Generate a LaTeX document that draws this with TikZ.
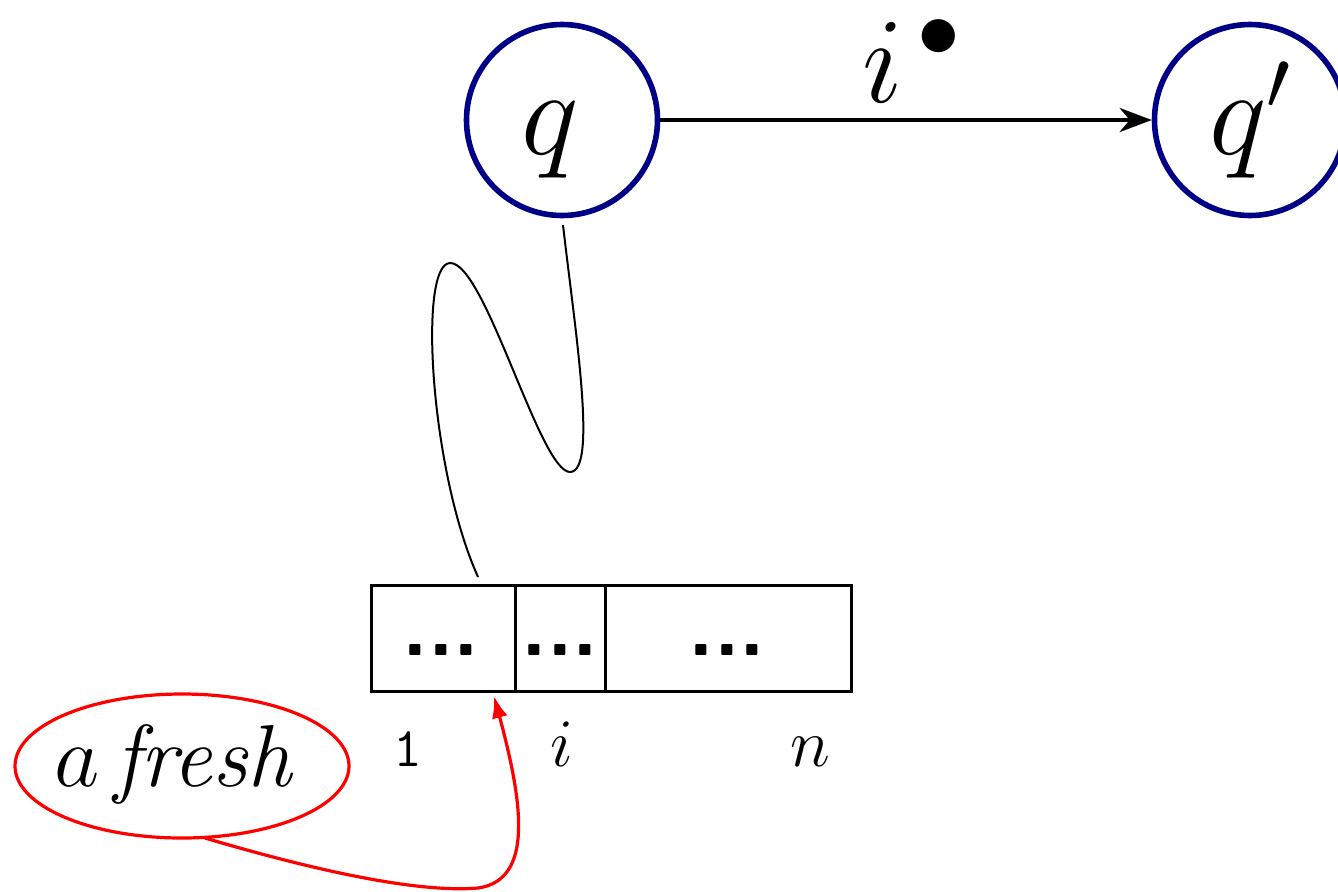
\RequirePackage{fix-cm}
\documentclass[tikz,border=0pt]{standalone}
\usetikzlibrary{arrows.meta,shapes.geometric}
\definecolor{navyq}{RGB}{0,0,135}
\begin{document}
\begin{tikzpicture}[x=0.5pt,y=-0.5pt,
  state/.style={circle,draw=navyq,line width=2.8pt,minimum size=95.5pt,inner sep=0pt,
    font=\fontsize{61}{72}\selectfont},
  trans/.style={line width=2.2pt,-{Stealth[length=16pt,width=12pt,inset=5pt]}},
  cell/.style={draw,line width=1.6pt,minimum height=53pt,inner sep=0pt,anchor=north west},
  dotsq/.style={font=\fontsize{42}{42}\selectfont\sffamily\bfseries,inner sep=0pt},
  idx/.style={font=\fontsize{34}{40}\selectfont,inner sep=0pt,anchor=base},
  snake/.style={line width=1pt},
  freshbox/.style={ellipse,draw=red,line width=1.6pt,minimum width=167pt,minimum height=72pt,
    inner sep=0pt},
  freshtext/.style={inner sep=0pt,font=\fontsize{44}{50}\selectfont},
  redarrow/.style={draw=red,line width=1.6pt,-{Latex[length=11pt,width=8pt]}}]
\useasboundingbox (0,0) rectangle (1338,891);

\node[state] (q) at (562,120) {$q\phantom{'}$};
\node[state] (qp) at (1250,120) {$q'$};
\draw[trans] (q) -- (qp);
\node[font=\fontsize{61}{72}\selectfont,inner sep=0pt,anchor=base] (lab) at (912,102) {$i^{\,\bullet}$};

\node[cell,minimum width=72pt] (c1) at (370,584) {};
\node[cell,minimum width=45pt] (c2) at (514,584) {};
\node[cell,minimum width=123pt] (c3) at (604,584) {};
\node[dotsq] (d1) at (441,650) {...};
\node[dotsq] (d2) at (560,650) {...};
\node[dotsq] (d3) at (727,650) {...};

\node[idx,font=\fontsize{28}{30}\selectfont\ttfamily] (l1) at (408,766) {1};
\node[idx] (li) at (562,766) {$i$};
\node[idx] (ln) at (810,766) {$n$};

\coordinate (s0) at (563,225);
\coordinate (s1) at (478,577);
\draw[snake] (s0) .. controls (575,330) and (598,472) .. (570,472)
  .. controls (540,472) and (485,262) .. (450,263)
  .. controls (418,264) and (430,470) .. (s1);

\node[freshbox] (fresh) at (182,766) {};
\node[freshtext] (ft) at (174,764) {$a$\,\textit{fresh}};
\coordinate (f0) at (205,838);
\coordinate (tip) at (494,696);
\draw[redarrow] (f0) .. controls (320,872) and (420,893) .. (478,888)
  .. controls (535,880) and (522,800) .. (tip);
\end{tikzpicture}
\end{document}
